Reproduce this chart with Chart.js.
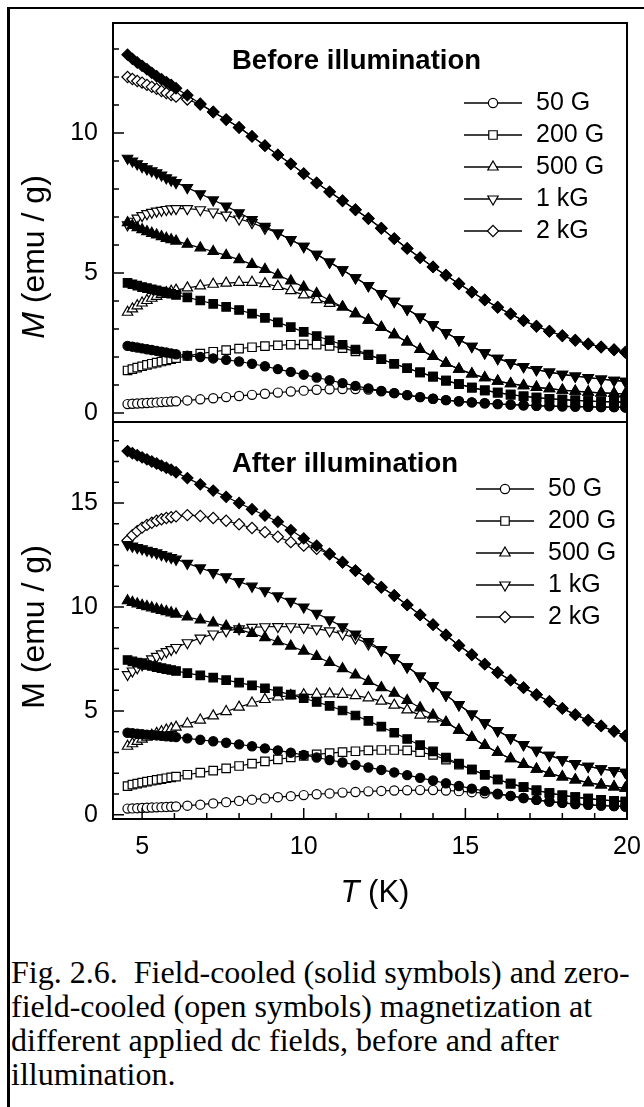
<!DOCTYPE html>
<html>
<head>
<meta charset="utf-8">
<script src="https://cdn.jsdelivr.net/npm/chart.js@4.4.1/dist/chart.umd.min.js"></script>
<style>
  body { margin: 0; background: #fff; }
  #page { position: relative; width: 644px; height: 1107px; overflow: hidden; background: #fff; }
  canvas { position: absolute; left: 0; }
  #topChart { top: 0; }
  #bottomChart { top: 400px; }
  .rule { position: absolute; background: #000; }
  #caption {
    position: absolute; left: 11px; top: 955px;
    font-family: 'Liberation Serif', 'Times New Roman', serif;
    font-size: 32px; line-height: 34px; color: #000; white-space: nowrap;
  }
</style>
</head>
<body>
<div id="page">
  <div class="rule" style="left:7px;top:7px;width:637px;height:2px"></div>
  <div class="rule" style="left:7px;top:7px;width:3px;height:1100px"></div>
  <canvas id="topChart" width="644" height="432"></canvas>
  <canvas id="bottomChart" width="644" height="520"></canvas>
  <div id="caption">Fig. 2.6.&nbsp; Field-cooled (solid symbols) and zero-<br>field-cooled (open symbols) magnetization at<br>different applied dc fields, before and after<br>illumination.</div>
</div>
<script>
// temperature points (K), shared by every curve
const temps = [4.55, 4.7, 4.85, 5.0, 5.15, 5.3, 5.45, 5.6, 5.75, 5.9, 6.05,
  6.4, 6.8, 7.2, 7.6, 8.0, 8.4, 8.8, 9.2, 9.6, 10.0, 10.4, 10.8, 11.2, 11.6,
  12.0, 12.4, 12.8, 13.2, 13.6, 14.0, 14.4, 14.8, 15.2, 15.6, 16.0, 16.4,
  16.8, 17.2, 17.6, 18.0, 18.4, 18.8, 19.2, 19.6, 19.95];

const fieldLabels = ['50 G', '200 G', '500 G', '1 kG', '2 kG'];

// before illumination, field-cooled (solid) and zero-field-cooled (open)
const beforeFC50 = [2.40, 2.37, 2.34, 2.31, 2.28, 2.25, 2.22, 2.19, 2.16, 2.13,
  2.10, 2.05, 2.00, 1.95, 1.90, 1.84, 1.76, 1.67, 1.57, 1.47,
  1.37, 1.27, 1.17, 1.07, 0.97, 0.88, 0.79, 0.71, 0.64, 0.57,
  0.51, 0.46, 0.42, 0.38, 0.35, 0.32, 0.30, 0.28, 0.26, 0.25,
  0.24, 0.23, 0.22, 0.21, 0.21, 0.20];
const beforeZFC50 = [0.32, 0.33, 0.34, 0.35, 0.36, 0.37, 0.38, 0.39, 0.40, 0.41,
  0.42, 0.45, 0.49, 0.53, 0.57, 0.61, 0.65, 0.69, 0.73, 0.77,
  0.80, 0.83, 0.85, 0.86, 0.86, 0.84, 0.78, 0.71, 0.64, 0.57,
  0.51, 0.46, 0.42, 0.38, 0.35, 0.32, 0.30, 0.28, 0.26, 0.25,
  0.24, 0.23, 0.22, 0.21, 0.21, 0.20];
const beforeFC200 = [4.65, 4.60, 4.55, 4.50, 4.46, 4.42, 4.38, 4.34, 4.30, 4.26,
  4.22, 4.13, 4.02, 3.90, 3.79, 3.68, 3.55, 3.40, 3.24, 3.07,
  2.90, 2.75, 2.60, 2.44, 2.27, 2.09, 1.92, 1.76, 1.60, 1.45,
  1.30, 1.16, 1.03, 0.91, 0.81, 0.73, 0.66, 0.60, 0.55, 0.51,
  0.48, 0.45, 0.43, 0.41, 0.40, 0.39];
const beforeZFC200 = [1.52, 1.57, 1.62, 1.67, 1.72, 1.76, 1.80, 1.84, 1.88, 1.92,
  1.96, 2.04, 2.12, 2.19, 2.25, 2.30, 2.35, 2.39, 2.42, 2.44,
  2.45, 2.44, 2.40, 2.32, 2.20, 2.07, 1.92, 1.76, 1.60, 1.45,
  1.30, 1.16, 1.03, 0.91, 0.81, 0.73, 0.66, 0.60, 0.55, 0.51,
  0.48, 0.45, 0.43, 0.41, 0.40, 0.39];
const beforeFC500 = [6.80, 6.70, 6.62, 6.55, 6.48, 6.42, 6.36, 6.30, 6.24, 6.19,
  6.14, 6.03, 5.90, 5.77, 5.63, 5.48, 5.31, 5.13, 4.93, 4.72,
  4.50, 4.27, 4.03, 3.79, 3.55, 3.32, 3.06, 2.80, 2.54, 2.27,
  2.02, 1.78, 1.57, 1.40, 1.26, 1.14, 1.05, 0.98, 0.92, 0.87,
  0.82, 0.78, 0.75, 0.72, 0.70, 0.68];
const beforeZFC500 = [3.60, 3.72, 3.83, 3.93, 4.02, 4.10, 4.17, 4.24, 4.30, 4.35,
  4.39, 4.47, 4.54, 4.60, 4.64, 4.67, 4.67, 4.62, 4.52, 4.37,
  4.22, 4.05, 3.92, 3.79, 3.55, 3.32, 3.06, 2.80, 2.54, 2.27,
  2.02, 1.78, 1.57, 1.40, 1.26, 1.14, 1.05, 0.98, 0.92, 0.87,
  0.82, 0.78, 0.75, 0.72, 0.70, 0.68];
const beforeFC1k = [9.10, 9.00, 8.90, 8.80, 8.72, 8.65, 8.58, 8.50, 8.40, 8.32,
  8.23, 8.05, 7.83, 7.61, 7.39, 7.15, 6.91, 6.67, 6.43, 6.19,
  5.95, 5.67, 5.39, 5.11, 4.83, 4.55, 4.27, 3.99, 3.71, 3.43,
  3.15, 2.87, 2.62, 2.38, 2.15, 1.95, 1.79, 1.66, 1.55, 1.46,
  1.38, 1.32, 1.27, 1.21, 1.17, 1.13];
const beforeZFC1k = [6.72, 6.85, 6.96, 7.05, 7.12, 7.17, 7.21, 7.24, 7.27, 7.29,
  7.30, 7.30, 7.26, 7.18, 7.07, 6.93, 6.80, 6.60, 6.43, 6.19,
  5.95, 5.67, 5.39, 5.11, 4.83, 4.55, 4.27, 3.99, 3.71, 3.43,
  3.15, 2.87, 2.62, 2.38, 2.15, 1.95, 1.79, 1.66, 1.55, 1.46,
  1.38, 1.32, 1.27, 1.21, 1.17, 1.13];
const beforeFC2k = [12.80, 12.65, 12.52, 12.40, 12.28, 12.15, 12.03, 11.92, 11.82, 11.72,
  11.60, 11.35, 11.05, 10.75, 10.48, 10.20, 9.88, 9.55, 9.22, 8.90,
  8.55, 8.22, 7.90, 7.58, 7.26, 6.95, 6.60, 6.23, 5.88, 5.55,
  5.22, 4.92, 4.62, 4.32, 4.04, 3.78, 3.54, 3.30, 3.10, 2.92,
  2.76, 2.60, 2.47, 2.36, 2.26, 2.17];
const beforeZFC2k = [12.00, 11.93, 11.86, 11.80, 11.72, 11.65, 11.58, 11.50, 11.43, 11.36,
  11.30, 11.20, 11.02, 10.75, 10.48, 10.20, 9.88, 9.55, 9.22, 8.90,
  8.55, 8.22, 7.90, 7.58, 7.26, 6.95, 6.60, 6.23, 5.88, 5.55,
  5.22, 4.92, 4.62, 4.32, 4.04, 3.78, 3.54, 3.30, 3.10, 2.92,
  2.76, 2.60, 2.47, 2.36, 2.26, 2.17];

// after illumination
const afterFC50 = [3.95, 3.93, 3.90, 3.88, 3.86, 3.84, 3.82, 3.80, 3.78, 3.76,
  3.74, 3.68, 3.61, 3.54, 3.47, 3.39, 3.30, 3.20, 3.10, 2.99,
  2.88, 2.76, 2.64, 2.52, 2.40, 2.28, 2.16, 2.04, 1.91, 1.78,
  1.65, 1.52, 1.39, 1.26, 1.14, 1.02, 0.91, 0.81, 0.72, 0.64,
  0.58, 0.52, 0.48, 0.45, 0.42, 0.40];
const afterZFC50 = [0.30, 0.31, 0.32, 0.33, 0.34, 0.35, 0.36, 0.37, 0.38, 0.39,
  0.40, 0.44, 0.49, 0.55, 0.61, 0.67, 0.73, 0.79, 0.85, 0.90,
  0.95, 0.99, 1.03, 1.07, 1.10, 1.13, 1.15, 1.17, 1.18, 1.19,
  1.19, 1.17, 1.14, 1.09, 1.04, 0.99, 0.91, 0.81, 0.72, 0.64,
  0.58, 0.52, 0.48, 0.45, 0.42, 0.40];
const afterFC200 = [7.45, 7.38, 7.32, 7.26, 7.21, 7.16, 7.11, 7.06, 7.01, 6.97,
  6.92, 6.82, 6.71, 6.60, 6.48, 6.36, 6.23, 6.09, 5.94, 5.78,
  5.61, 5.43, 5.24, 5.02, 4.78, 4.52, 4.24, 3.95, 3.65, 3.35,
  3.05, 2.75, 2.46, 2.18, 1.93, 1.70, 1.50, 1.33, 1.18, 1.05,
  0.94, 0.85, 0.78, 0.72, 0.67, 0.64];
const afterZFC200 = [1.38, 1.45, 1.50, 1.55, 1.60, 1.64, 1.68, 1.72, 1.76, 1.80,
  1.84, 1.93, 2.03, 2.13, 2.24, 2.35, 2.46, 2.57, 2.67, 2.76,
  2.84, 2.91, 2.97, 3.02, 3.06, 3.10, 3.12, 3.12, 3.10, 3.02,
  2.88, 2.66, 2.42, 2.18, 1.93, 1.70, 1.50, 1.33, 1.18, 1.05,
  0.94, 0.85, 0.78, 0.72, 0.67, 0.64];
const afterFC500 = [10.30, 10.22, 10.15, 10.08, 10.02, 9.96, 9.90, 9.84, 9.78, 9.72,
  9.66, 9.52, 9.38, 9.24, 9.08, 8.92, 8.73, 8.53, 8.33, 8.12,
  7.88, 7.62, 7.33, 7.03, 6.73, 6.42, 6.12, 5.85, 5.50, 5.15,
  4.80, 4.45, 4.08, 3.72, 3.34, 3.00, 2.70, 2.43, 2.20, 2.00,
  1.83, 1.68, 1.55, 1.44, 1.35, 1.28];
const afterZFC500 = [3.30, 3.42, 3.53, 3.64, 3.74, 3.83, 3.92, 4.00, 4.08, 4.15,
  4.22, 4.38, 4.56, 4.76, 4.97, 5.18, 5.38, 5.55, 5.67, 5.74,
  5.78, 5.80, 5.82, 5.80, 5.74, 5.63, 5.47, 5.28, 5.05, 4.80,
  4.62, 4.45, 4.08, 3.72, 3.34, 3.00, 2.70, 2.43, 2.20, 2.00,
  1.83, 1.68, 1.55, 1.44, 1.35, 1.28];
const afterFC1k = [13.00, 12.93, 12.86, 12.80, 12.73, 12.66, 12.60, 12.52, 12.45, 12.38,
  12.30, 12.10, 11.88, 11.66, 11.45, 11.22, 11.00, 10.78, 10.53, 10.27,
  10.00, 9.70, 9.38, 9.05, 8.70, 8.33, 7.95, 7.55, 7.12, 6.68,
  6.22, 5.76, 5.30, 4.85, 4.43, 4.05, 3.70, 3.38, 3.10, 2.86,
  2.65, 2.47, 2.33, 2.21, 2.12, 2.05];
const afterZFC1k = [6.75, 6.92, 7.08, 7.22, 7.36, 7.50, 7.62, 7.74, 7.85, 7.95,
  8.05, 8.28, 8.50, 8.70, 8.85, 8.95, 9.02, 9.05, 9.06, 9.05,
  9.02, 8.95, 8.85, 8.70, 8.50, 8.22, 7.92, 7.55, 7.12, 6.68,
  6.22, 5.76, 5.30, 4.85, 4.43, 4.05, 3.70, 3.38, 3.10, 2.86,
  2.65, 2.47, 2.33, 2.21, 2.12, 2.05];
const afterFC2k = [17.50, 17.40, 17.30, 17.20, 17.10, 17.00, 16.90, 16.80, 16.70, 16.60,
  16.48, 16.20, 15.90, 15.60, 15.30, 15.00, 14.70, 14.40, 14.10, 13.70,
  13.30, 12.95, 12.55, 12.15, 11.75, 11.35, 10.95, 10.55, 10.10, 9.62,
  9.15, 8.65, 8.15, 7.70, 7.25, 6.85, 6.48, 6.12, 5.78, 5.45,
  5.12, 4.82, 4.55, 4.28, 4.02, 3.80];
const afterZFC2k = [13.20, 13.45, 13.65, 13.82, 13.95, 14.05, 14.15, 14.22, 14.28, 14.32,
  14.36, 14.42, 14.38, 14.28, 14.15, 13.98, 13.80, 13.60, 13.38, 13.12,
  12.95, 12.80, 12.55, 12.15, 11.75, 11.35, 10.95, 10.55, 10.10, 9.62,
  9.15, 8.65, 8.15, 7.70, 7.25, 6.85, 6.48, 6.12, 5.78, 5.45,
  5.12, 4.82, 4.55, 4.28, 4.02, 3.80];

const SANS = "'Liberation Sans', Arial, Helvetica, sans-serif";

// symbol per field: circle, square, up triangle, down triangle, diamond
const marks = [
  { pointStyle: 'circle', radius: 4.6, rotation: 0 },
  { pointStyle: 'rect', radius: 6, rotation: 0 },
  { pointStyle: 'triangle', radius: 6, rotation: 0 },
  { pointStyle: 'triangle', radius: 6, rotation: 180 },
  { pointStyle: 'rectRot', radius: 5.6, rotation: 0 }
];

function series(vals, m, filled) {
  return {
    data: temps.map((t, k) => ({ x: t, y: vals[k] })),
    borderColor: '#000',
    borderWidth: 1.2,
    pointStyle: m.pointStyle,
    pointRadius: m.radius,
    pointRotation: m.rotation,
    pointBackgroundColor: filled ? '#000' : '#fff',
    pointBorderColor: '#000',
    pointBorderWidth: 1.2,
    fill: false,
    tension: 0
  };
}

// solid-symbol curves first so they sit on top where the curves meet
function buildSets(fcList, zfcList) {
  const sets = [];
  fcList.forEach((vals, i) => sets.push(series(vals, marks[i], true)));
  zfcList.forEach((vals, i) => sets.push(series(vals, marks[i], false)));
  return sets;
}

function drawMark(ctx, m, x, y) {
  ctx.fillStyle = '#fff';
  ctx.strokeStyle = '#000';
  ctx.lineWidth = 1.2;
  Chart.helpers.drawPoint(ctx, { pointStyle: m.pointStyle, radius: m.radius, rotation: m.rotation, borderWidth: 1.2 }, x, y);
}

const panelDecor = {
  id: 'panelDecor',
  afterDraw(chart, args, o) {
    const ctx = chart.ctx;
    const area = chart.chartArea;
    const xs = chart.scales.x, ys = chart.scales.y;
    ctx.save();
    ctx.strokeStyle = '#000';
    ctx.lineWidth = 2;
    ctx.strokeRect(area.left, area.top, area.right - area.left, area.bottom - area.top);

    // inward tick marks, long every 5, short every 1
    ctx.lineWidth = 1.5;
    ctx.beginPath();
    for (let v = Math.ceil(ys.min); v <= ys.max; v++) {
      const y = ys.getPixelForValue(v);
      ctx.moveTo(area.left, y);
      ctx.lineTo(area.left + (v % 5 === 0 ? 11 : 6), y);
    }
    if (o.xTicks) {
      for (let t = Math.ceil(xs.min); t <= xs.max; t++) {
        const x = xs.getPixelForValue(t);
        ctx.moveTo(x, area.bottom);
        ctx.lineTo(x, area.bottom - (t % 5 === 0 ? 11 : 6));
      }
    }
    ctx.stroke();

    ctx.fillStyle = '#000';
    ctx.textBaseline = 'middle';
    ctx.textAlign = 'left';
    ctx.font = 'bold 27.5px ' + SANS;
    ctx.fillText(o.title, o.titleX, o.titleY);

    // legend: open symbols only
    const lg = o.legend;
    ctx.font = '25px ' + SANS;
    fieldLabels.forEach((lab, i) => {
      const y = lg.top + i * lg.step;
      ctx.strokeStyle = '#000';
      ctx.lineWidth = 1.6;
      ctx.beginPath();
      ctx.moveTo(lg.x0, y);
      ctx.lineTo(lg.x1, y);
      ctx.stroke();
      drawMark(ctx, marks[i], lg.mx, y);
      ctx.fillStyle = '#000';
      ctx.textAlign = 'left';
      ctx.fillText(lab, lg.tx, y);
    });

    // y-axis title
    ctx.save();
    ctx.translate(o.yTitle.x, o.yTitle.y);
    ctx.rotate(-Math.PI / 2);
    const mFont = (o.yTitle.italic ? 'italic ' : '') + '32px ' + SANS;
    const rest = ' (emu / g)';
    ctx.font = mFont;
    const wM = ctx.measureText('M').width;
    ctx.font = '32px ' + SANS;
    const wR = ctx.measureText(rest).width;
    let sx = -(wM + wR) / 2;
    ctx.textAlign = 'left';
    ctx.font = mFont;
    ctx.fillText('M', sx, 0);
    ctx.font = '32px ' + SANS;
    ctx.fillText(rest, sx + wM, 0);
    ctx.restore();

    if (o.xTitle) {
      ctx.font = 'italic 31px ' + SANS;
      const wT = ctx.measureText('T').width;
      ctx.font = '31px ' + SANS;
      const wK = ctx.measureText(' (K)').width;
      const sx2 = o.xTitle.x - (wT + wK) / 2;
      ctx.textAlign = 'left';
      ctx.font = 'italic 31px ' + SANS;
      ctx.fillText('T', sx2, o.xTitle.y);
      ctx.font = '31px ' + SANS;
      ctx.fillText(' (K)', sx2 + wT, o.xTitle.y);
    }
    ctx.restore();
  }
};

function makeChart(id, sets, yMin, yMax, pad, showX, decor) {
  return new Chart(document.getElementById(id), {
    type: 'line',
    data: { datasets: sets },
    options: {
      responsive: false,
      animation: false,
      events: [],
      layout: { padding: pad },
      plugins: {
        legend: { display: false },
        tooltip: { enabled: false },
        panelDecor: decor
      },
      scales: {
        x: {
          type: 'linear', min: 4.1, max: 20, display: showX,
          grid: { display: false, drawTicks: false },
          border: { display: false },
          ticks: { stepSize: 5, includeBounds: false, padding: 13, maxRotation: 0, color: '#000',
                   font: { family: SANS, size: 25 } },
          afterFit(s) { s.height = showX ? 101 : 0; s.paddingLeft = 0; s.paddingRight = 0; }
        },
        y: {
          type: 'linear', min: yMin, max: yMax,
          grid: { display: false, drawTicks: false },
          border: { display: false },
          ticks: { stepSize: 5, includeBounds: false, padding: 15, color: '#000',
                   font: { family: SANS, size: 25 } },
          afterFit(s) { s.width = 113; s.paddingTop = 0; s.paddingBottom = 0; }
        }
      }
    },
    plugins: [panelDecor]
  });
}

makeChart('topChart',
  buildSets([beforeFC50, beforeFC200, beforeFC500, beforeFC1k, beforeFC2k],
            [beforeZFC50, beforeZFC200, beforeZFC500, beforeZFC1k, beforeZFC2k]),
  -0.32, 13.93, { left: 0, top: 23, right: 17, bottom: 10 }, false,
  { title: 'Before illumination', titleX: 232, titleY: 61,
    legend: { top: 103, step: 32, x0: 464, x1: 522, mx: 493, tx: 536 },
    yTitle: { x: 35, y: 257, italic: true }, xTicks: false, xTitle: null });

makeChart('bottomChart',
  buildSets([afterFC50, afterFC200, afterFC500, afterFC1k, afterFC2k],
            [afterZFC50, afterZFC200, afterZFC500, afterZFC1k, afterZFC2k]),
  -0.2, 18.9, { left: 0, top: 22, right: 17, bottom: 0 }, true,
  { title: 'After illumination', titleX: 232, titleY: 64,
    legend: { top: 89, step: 32, x0: 476, x1: 534, mx: 505, tx: 548 },
    yTitle: { x: 35, y: 227, italic: false }, xTicks: true,
    xTitle: { x: 375, y: 493 } });
</script>
</body>
</html>
